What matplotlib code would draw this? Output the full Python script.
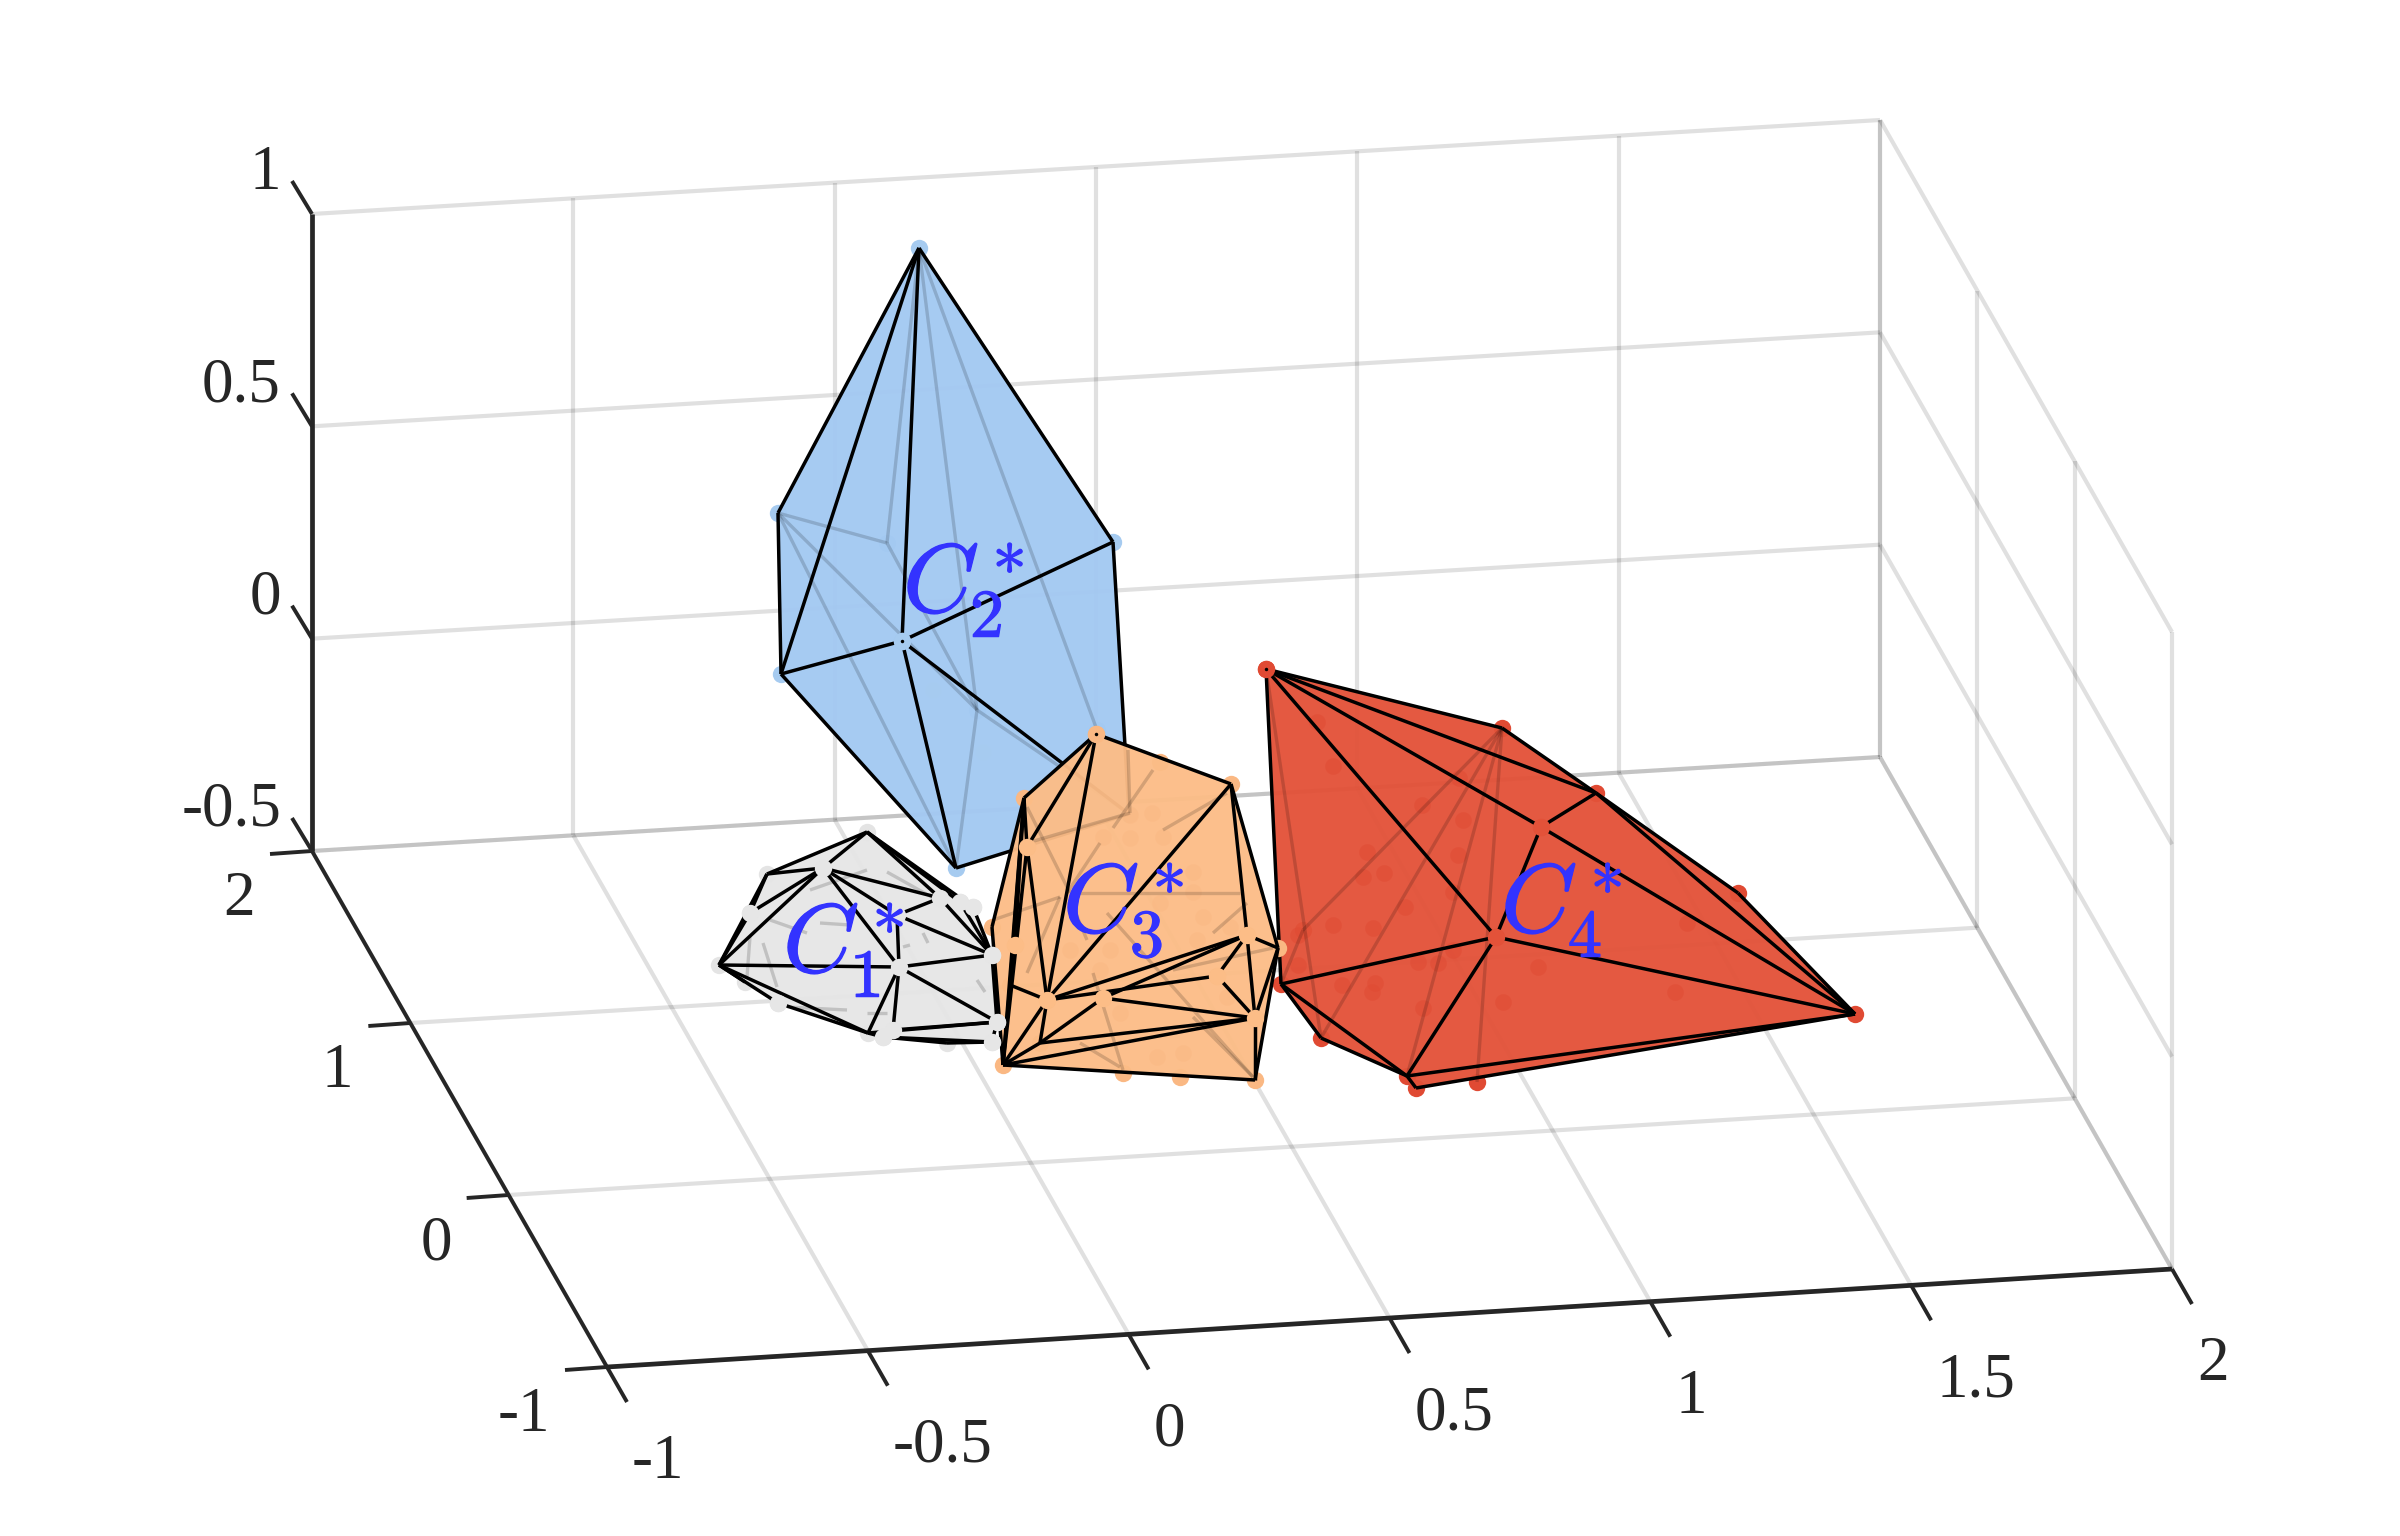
import matplotlib
matplotlib.use('Agg')
import matplotlib.pyplot as plt
import matplotlib.patheffects as pe

plt.rcParams['font.family'] = ['Liberation Serif', 'DejaVu Serif']
plt.rcParams['mathtext.fontset'] = 'cm'

# tick values of the 3D box
x_ticks = [-1, -0.5, 0, 0.5, 1, 1.5, 2]
y_ticks = [-1, 0, 1, 2]
z_ticks = [-0.5, 0, 0.5, 1]
x_labels = ['-1', '-0.5', '0', '0.5', '1', '1.5', '2']
y_labels = ['-1', '0', '1', '2']
z_labels = ['-0.5', '0', '0.5', '1']

# hulls are given as they appear in the picture (view plane, pixels)
blue_u = [919, 778, 1113, 781, 902, 956, 1129, 887, 977, 1097]
blue_v = [248, 513, 542, 674, 641, 868, 814, 543, 710, 730]
blue_front = [(0, 1), (0, 2), (0, 3), (0, 4), (1, 3), (2, 4), (3, 4), (4, 5), (3, 5), (4, 6), (2, 6), (5, 6)]
blue_back = [(0, 7), (1, 7), (0, 8), (0, 9), (1, 5), (1, 8), (7, 8), (8, 5), (8, 6)]
blue_outline = [0, 2, 6, 5, 3, 1]
blue_dots_u = [933, 983]
blue_dots_v = [690, 752]
blue_top = [4]
blue_pin = [4]

red_u = [1266, 1502, 1596, 1541, 1496, 1281, 1321, 1407, 1416, 1477, 1738, 1855, 1303]
red_v = [669, 728, 793, 827, 937, 984, 1038, 1076, 1088, 1082, 893, 1014, 930]
red_front = [(0, 1), (0, 2), (0, 3), (0, 4), (0, 5), (1, 2), (2, 3), (3, 4), (3, 11), (4, 5), (4, 7), (4, 11),
             (5, 6), (5, 7), (6, 7), (7, 8), (7, 11), (8, 11), (2, 10), (2, 11), (10, 11)]
red_back = [(1, 12), (1, 6), (1, 7), (1, 9), (0, 6), (5, 12)]
red_outline = [0, 1, 2, 10, 11, 8, 7, 6, 5]
red_dots_u = [1317, 1333, 1422, 1459, 1463, 1367, 1458, 1363, 1384, 1405, 1453, 1333, 1373, 1298, 1298, 1418, 1438,
              1453, 1342, 1375, 1372, 1423, 1503, 1538, 1675, 1687]
red_dots_v = [722, 766, 805, 778, 820, 852, 855, 877, 873, 907, 892, 925, 928, 935, 965, 962, 963,
              950, 985, 983, 992, 1008, 1002, 967, 992, 923]
red_top = [3, 4]
red_pin = [0]

orange_u = [1096, 1231, 1024, 1027, 1047, 1247, 1278, 1255, 1255, 1003, 1040, 1217, 1103, 992, 1015, 1010, 1123, 1180, 1160]
orange_v = [734, 784, 798, 847, 1000, 935, 948, 1018, 1080, 1065, 1043, 976, 998, 927, 945, 985, 1073, 1077, 762]
orange_front = [(0, 2), (0, 3), (0, 4), (0, 1), (1, 4), (1, 5), (1, 6), (2, 3), (2, 15), (2, 9), (2, 14), (3, 4), (3, 9),
                (5, 4), (5, 12), (11, 4), (5, 11), (11, 7), (5, 7), (5, 6), (6, 7), (6, 8), (7, 8), (12, 7), (4, 9),
                (4, 10), (10, 12), (10, 9), (10, 7), (9, 7), (9, 8), (15, 4), (15, 9), (13, 9), (13, 2)]
orange_outline = [0, 1, 6, 8, 9, 13, 2]
orange_back = [(1128, 750, 1130, 813), (1153, 770, 1113, 828), (1227, 793, 1163, 830), (1027, 843, 1130, 813),
               (1027, 807, 1070, 893), (1100, 843, 1067, 893), (1080, 893, 1240, 893), (1060, 897, 993, 920),
               (1087, 940, 1070, 900), (1107, 913, 1253, 1077), (1093, 973, 1123, 1070), (1193, 1017, 1253, 1077),
               (1173, 970, 1273, 948), (1213, 933, 1247, 903), (1080, 1043, 1120, 1067), (1027, 973, 1060, 897)]
orange_dots_u = [1130, 1152, 1103, 1130, 1163, 1193, 1193, 1203, 1230, 1197, 1160, 1100, 1070, 1110, 1227, 1120, 1157, 1183]
orange_dots_v = [815, 813, 837, 838, 837, 872, 892, 917, 927, 940, 903, 970, 950, 950, 997, 1013, 1057, 1053]
orange_top = [3, 4, 5, 7, 11, 12, 14]
orange_pin = [0]

grey_u = [867, 767, 750, 719, 745, 778, 868, 883, 947, 992, 997, 992, 899, 897, 940, 823, 973, 960, 893]
grey_v = [832, 874, 913, 965, 982, 1003, 1033, 1037, 1043, 1042, 1022, 955, 967, 915, 898, 868, 907, 902, 1030]
grey_front = [(0, 1), (0, 15), (1, 15), (1, 2), (1, 3), (15, 2), (15, 3), (2, 3), (3, 12), (3, 5), (3, 6), (3, 4), (5, 6),
              (12, 15), (13, 15), (13, 12), (15, 14), (13, 14), (14, 11), (0, 14), (0, 16), (0, 17), (13, 11), (12, 11),
              (12, 10), (12, 6), (12, 18), (18, 10), (6, 10), (7, 8), (8, 9), (9, 10), (10, 11), (16, 11), (17, 11),
              (6, 7), (7, 9)]
grey_outline = [0, 16, 11, 10, 9, 8, 7, 6, 5, 4, 3, 2, 1]
grey_back = [(770, 920, 807, 933), (820, 923, 850, 925), (750, 937, 747, 977), (763, 943, 777, 987),
             (887, 872, 937, 900), (810, 890, 867, 870), (847, 1010, 787, 1007), (867, 1013, 887, 1013),
             (903, 947, 910, 945), (923, 933, 928, 943), (977, 980, 985, 992)]
grey_top = [2, 12, 13, 14, 15, 18, 10, 11, 17, 16, 5, 7, 9]

label_sub = ['1', '2', '3', '4']
label_u = [783, 903, 1063, 1501]
label_v = [972, 612, 932, 932]

ink = '#262626'
label_blue = '#3333FF'


def project(x, y, z):
    # nearly orthographic view, small correction at the near left corner
    near = (2 - x) * (2 - y) / 9
    u = 312 + (x + 1) * 522.67 + (2 - y) * 97.33 + near * 3
    v = 851 - (x + 1) * 31.33 + (2 - y) * 170.67 - (z + 0.5) * 424.67 + near * 4
    return u, v


def seg(p0, p1, **kw):
    ax.plot([p0[0], p1[0]], [p0[1], p1[1]], solid_capstyle='butt', **kw)


fig = plt.figure(figsize=(24, 15.36), dpi=100)
ax = fig.add_axes([0, 0, 1, 1])
ax.set_xlim(0, 2400)
ax.set_ylim(1536, 0)
ax.axis('off')

# grid on the floor and on the two back walls
grid = dict(color='black', alpha=0.12, lw=3.0, zorder=1)
for x in x_ticks:
    seg(project(x, -1, -0.5), project(x, 2, -0.5), **grid)
    seg(project(x, 2, -0.5), project(x, 2, 1), **grid)
for y in y_ticks:
    seg(project(-1, y, -0.5), project(2, y, -0.5), **grid)
    seg(project(2, y, -0.5), project(2, y, 1), **grid)
for z in z_ticks:
    seg(project(-1, 2, z), project(2, 2, z), **grid)
    seg(project(2, -1, z), project(2, 2, z), **grid)

# axis rulers
seg(project(-1, 2, -0.5), project(-1, 2, 1), color=ink, lw=3.4, zorder=2)
seg(project(-1, -1, -0.5), project(2, -1, -0.5), color=ink, lw=3.4, zorder=2)
seg(project(-1, -1, -0.5), project(-1, 2, -0.5), color=ink, lw=2.8, zorder=2)

font = dict(fontsize=45.5, color=ink, zorder=3)
for x, lab in zip(x_ticks, x_labels):
    p = project(x, -1, -0.5)
    seg(p, (p[0] + 20, p[1] + 35), color=ink, lw=2.8, zorder=2)
    ax.text(p[0] + 25, p[1] + 89, lab, ha='left', va='center_baseline', **font)
for y, lab in zip(y_ticks, y_labels):
    p = project(-1, y, -0.5)
    seg(p, (p[0] - 42, p[1] + 3), color=ink, lw=2.8, zorder=2)
    ax.text(p[0] - 57, p[1] + 42, lab, ha='right', va='center_baseline', **font)
for z, lab in zip(z_ticks, z_labels):
    p = project(-1, 2, z)
    seg(p, (p[0] - 20, p[1] - 33), color=ink, lw=2.8, zorder=2)
    ax.text(p[0] - 31, p[1] - 47, lab, ha='right', va='center_baseline', **font)


def draw_hull(u, v, outline, front, top, pin, fill, dot, zbase, back=(), back_segs=(), dots_u=(), dots_v=()):
    # markers behind everything, then the faces, hidden edges, visible edges
    ax.plot(u, v, 'o', ms=12.5, color=dot, mew=0, zorder=zbase)
    ax.fill([u[i] for i in outline], [v[i] for i in outline], color=fill, alpha=0.96, lw=0, zorder=zbase + 0.1)
    ax.plot(dots_u, dots_v, 'o', ms=12, color=dot, mew=0, alpha=0.5, zorder=zbase + 0.2)
    faint = dict(color='black', alpha=0.16, lw=2.4, zorder=zbase + 0.3)
    for a, b in back:
        seg((u[a], v[a]), (u[b], v[b]), **faint)
    for s in back_segs:
        seg((s[0], s[1]), (s[2], s[3]), **faint)
    for a, b in front:
        seg((u[a], v[a]), (u[b], v[b]), color='black', lw=2.5, zorder=zbase + 0.4)
    ax.plot([u[i] for i in top], [v[i] for i in top], 'o', ms=12.5, color=fill, mew=0, zorder=zbase + 0.5)
    ax.plot([u[i] for i in pin], [v[i] for i in pin], 'o', ms=12.5, color=dot, mew=0, zorder=zbase + 0.5)
    ax.plot([u[i] for i in pin], [v[i] for i in pin], 'o', ms=2.5, color='black', mew=0, zorder=zbase + 0.6)


draw_hull(blue_u, blue_v, blue_outline, blue_front, blue_top, blue_pin, '#A3C9F2', '#A6CBF0', 4,
          back=blue_back, dots_u=blue_dots_u, dots_v=blue_dots_v)
draw_hull(red_u, red_v, red_outline, red_front, red_top, red_pin, '#E35239', '#E04A33', 5,
          back=red_back, dots_u=red_dots_u, dots_v=red_dots_v)
draw_hull(orange_u, orange_v, orange_outline, orange_front, orange_top, orange_pin, '#FCBD87', '#FAB883', 6,
          back_segs=orange_back, dots_u=orange_dots_u, dots_v=orange_dots_v)
draw_hull(grey_u, grey_v, grey_outline, grey_front, grey_top, [], '#E6E6E6', '#E4E4E4', 7,
          back_segs=grey_back)

# one mathtext string per label, the empty group keeps index and star over each other
bold = [pe.withStroke(linewidth=0.9, foreground=label_blue)]
for sub, u, v in zip(label_sub, label_u, label_v):
    lab = r'$C\hspace{-0.08}{}_{' + sub + r'}^{\hspace{0.18}*}$'
    ax.text(u, v, lab, fontsize=70, color=label_blue, ha='left', va='baseline', zorder=10, path_effects=bold)

fig.savefig('out.png', dpi=100)
